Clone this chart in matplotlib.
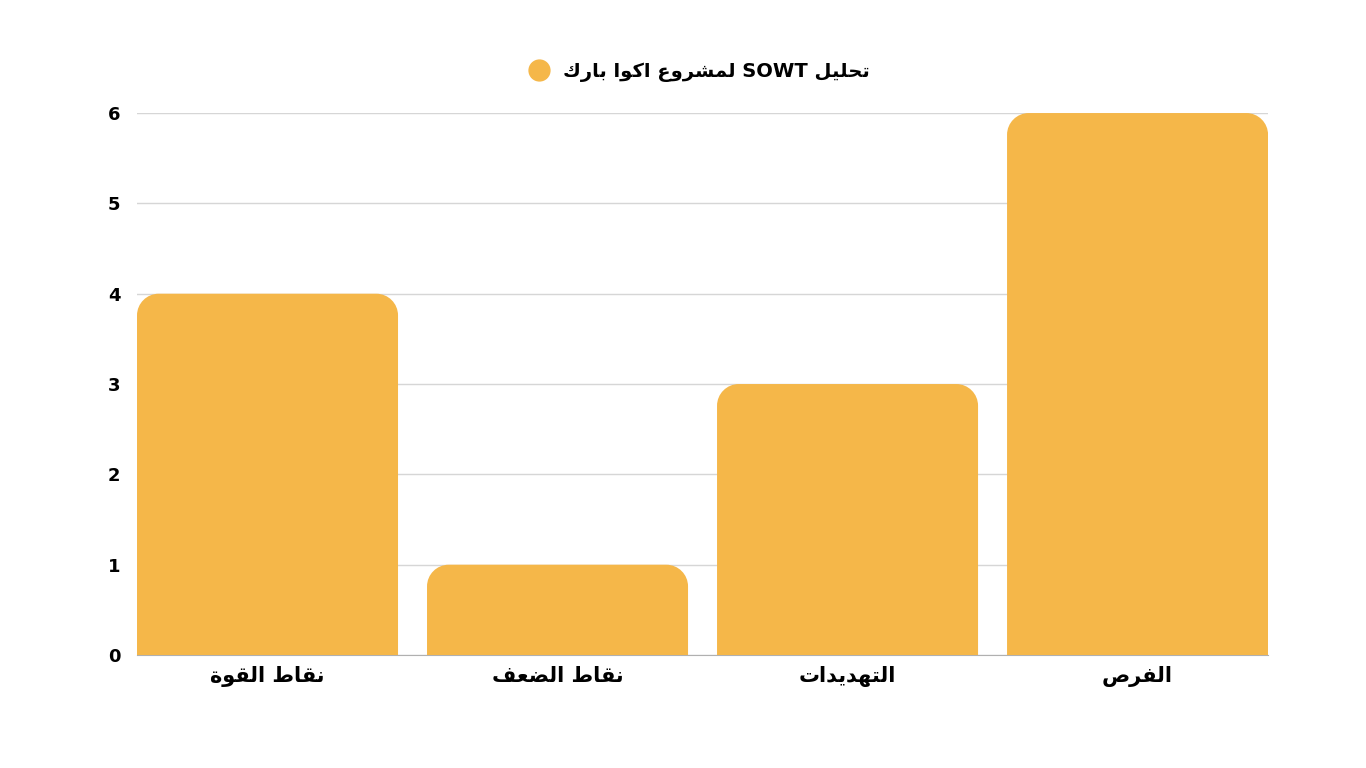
import matplotlib.pyplot as plt
from matplotlib.path import Path
from matplotlib.patches import PathPatch
from matplotlib.lines import Line2D

# chart data
categories = ["نقاط القوة", "نقاط الضعف", "التهديدات", "الفرص"]
values = [4, 1, 3, 6]
series_name = "تحليل SOWT لمشروع اكوا بارك"
y_ticks = [0, 1, 2, 3, 4, 5, 6]

BAR_COLOR = "#F5B749"

# Arabic presentation forms: isolated, final, initial, medial
FORMS = {
    "ا": ("\uFE8D", "\uFE8E", None, None),
    "ب": ("\uFE8F", "\uFE90", "\uFE91", "\uFE92"),
    "ة": ("\uFE93", "\uFE94", None, None),
    "ت": ("\uFE95", "\uFE96", "\uFE97", "\uFE98"),
    "ح": ("\uFEA1", "\uFEA2", "\uFEA3", "\uFEA4"),
    "د": ("\uFEA9", "\uFEAA", None, None),
    "ر": ("\uFEAD", "\uFEAE", None, None),
    "ش": ("\uFEB5", "\uFEB6", "\uFEB7", "\uFEB8"),
    "ص": ("\uFEB9", "\uFEBA", "\uFEBB", "\uFEBC"),
    "ض": ("\uFEBD", "\uFEBE", "\uFEBF", "\uFEC0"),
    "ط": ("\uFEC1", "\uFEC2", "\uFEC3", "\uFEC4"),
    "ع": ("\uFEC9", "\uFECA", "\uFECB", "\uFECC"),
    "ف": ("\uFED1", "\uFED2", "\uFED3", "\uFED4"),
    "ق": ("\uFED5", "\uFED6", "\uFED7", "\uFED8"),
    "ك": ("\uFED9", "\uFEDA", "\uFEDB", "\uFEDC"),
    "ل": ("\uFEDD", "\uFEDE", "\uFEDF", "\uFEE0"),
    "م": ("\uFEE1", "\uFEE2", "\uFEE3", "\uFEE4"),
    "ن": ("\uFEE5", "\uFEE6", "\uFEE7", "\uFEE8"),
    "ه": ("\uFEE9", "\uFEEA", "\uFEEB", "\uFEEC"),
    "و": ("\uFEED", "\uFEEE", None, None),
    "ي": ("\uFEF1", "\uFEF2", "\uFEF3", "\uFEF4"),
}


def shape_word(word):
    out = []
    for i, ch in enumerate(word):
        if ch not in FORMS:
            out.append(ch)
            continue
        prev = word[i - 1] if i > 0 else None
        nxt = word[i + 1] if i < len(word) - 1 else None
        join_prev = prev in FORMS and FORMS[prev][2] is not None
        join_next = nxt in FORMS and FORMS[ch][2] is not None
        iso, fin, ini, med = FORMS[ch]
        if join_prev and join_next:
            out.append(med)
        elif join_prev:
            out.append(fin)
        elif join_next:
            out.append(ini)
        else:
            out.append(iso)
    return "".join(out)


def ar(text):
    """logical arabic -> visual order with joined letters"""
    words = []
    for w in text.split(" "):
        if any(c in FORMS for c in w):
            words.append(shape_word(w)[::-1])
        else:
            words.append(w)
    return " ".join(words[::-1])


def round_top_bar(x0, x1, y1, rx, ry):
    k = 0.5523
    verts = [(x0, 0), (x0, y1 - ry),
             (x0, y1 - ry + k * ry), (x0 + rx - k * rx, y1), (x0 + rx, y1),
             (x1 - rx, y1),
             (x1 - rx + k * rx, y1), (x1, y1 - ry + k * ry), (x1, y1 - ry),
             (x1, 0), (x0, 0)]
    codes = [Path.MOVETO, Path.LINETO,
             Path.CURVE4, Path.CURVE4, Path.CURVE4,
             Path.LINETO,
             Path.CURVE4, Path.CURVE4, Path.CURVE4,
             Path.LINETO, Path.CLOSEPOLY]
    return Path(verts, codes)


fig = plt.figure(figsize=(13.66, 7.68), dpi=100)
ax = fig.add_axes([0.1003, 0.1471, 0.828, 0.7057])

bars = ax.bar(range(len(values)), values, width=0.9, color=BAR_COLOR)
ax.set_xlim(-0.45, len(values) - 0.55)
ax.set_ylim(0, 6)

# swap plain rectangles for ones with rounded top corners
rx, ry = 0.075, 0.24
for b in bars:
    b.set_visible(False)
    x0 = b.get_x()
    x1 = x0 + b.get_width()
    h = b.get_height()
    ax.add_patch(PathPatch(round_top_bar(x0, x1, h, rx, min(ry, h / 2)),
                           facecolor=BAR_COLOR, edgecolor="none", zorder=3))

ax.set_yticks(y_ticks)
ax.yaxis.grid(True, color="#d6d6d6", linewidth=1)
ax.set_axisbelow(True)
for s in ["top", "right", "left"]:
    ax.spines[s].set_visible(False)
ax.spines["bottom"].set_color("#b0b0b0")
ax.spines["bottom"].set_linewidth(0.8)
ax.tick_params(axis="both", length=0)
ax.tick_params(axis="y", pad=12)
ax.tick_params(axis="x", pad=8)

ax.set_xticks(range(len(categories)))
ax.set_xticklabels([ar(c) for c in categories], fontsize=15, fontweight="bold",
                   family=["DejaVu Sans"])
for lab in ax.get_yticklabels():
    lab.set_fontsize(13)
    lab.set_fontweight("bold")

handle = Line2D([], [], marker="o", linestyle="none", markersize=15,
                markerfacecolor=BAR_COLOR, markeredgecolor=BAR_COLOR)
ax.legend([handle], [ar(series_name)], loc="lower center",
          bbox_to_anchor=(0.493, 1.025), frameon=False, handletextpad=0.2,
          prop={"size": 14, "weight": "bold", "family": ["DejaVu Sans"]})

fig.savefig("out.png", dpi=100, facecolor="white")
